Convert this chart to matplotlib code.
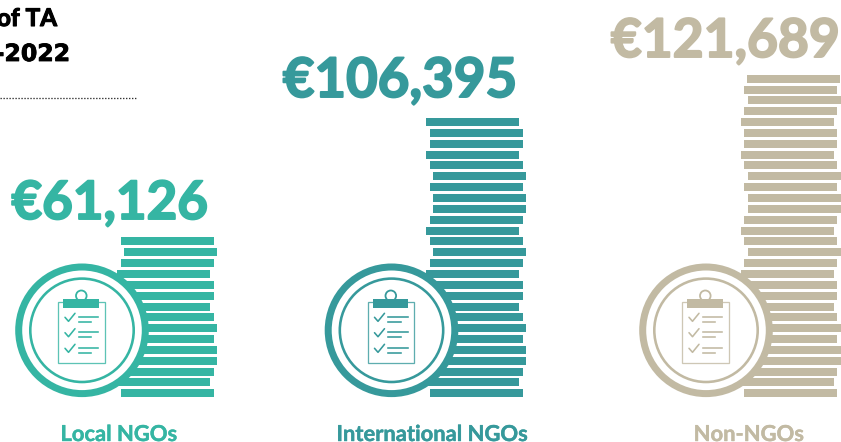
import matplotlib
matplotlib.use("Agg")
import numpy as np
import matplotlib.pyplot as plt
import matplotlib.patheffects as pe
from matplotlib.patches import Circle, Rectangle

# Values
categories = ["Local NGOs", "International NGOs", "Non-NGOs"]
costs = [61126, 106395, 121689]
title_lines = ["of TA", "-2022"]

# one coin in the stack stands for about this many euros
EUROS_PER_COIN = 4075

COLORS = ["#35B5A3", "#36999B", "#C2BAA3"]

# sideways jitter of each coin, top of the stack first
shift_local = [0, 3, 0, -4, 0, 0, -4, 0, 3, 0, 3, 3, 0, -4, 0]
shift_intl = [-4, 0, 0, -4, 0, 3, 0, 3, 3, 0, -4, 0, 3, 0,
              -4, 0, 0, -4, 0, 3, 0, 3, 3, 0, -4, 0]
shift_non = [3, 0, 4, 0, -3, 0, 0, -3, 0, 4, 0, 4, 4, 0, -3, 0, 4,
             0, -3, 0, 0, -3, 0, 4, 0, 4, 4, 0, -3, 0]
shifts = [shift_local, shift_intl, shift_non]

# layout, in pixels of the 841x442 canvas
STACK_LEFT = [121, 430, 744]
COIN_W = 93
COIN_H = 8
BOTTOM_COIN_TOP = 389
RING_X = [82, 391.5, 706]
RING_Y = 330.3
VALUE_X = [109.5, 400, 725.5]
VALUE_Y = [219, 97, 57]
VALUE_SIZE = [38.1, 39.3, 38.4]
LABEL_X = [119, 432.5, 749]
LABEL_Y = 441

px = 0.72  # points per pixel at dpi 100


def heavy(width, color):
    # the installed fonts stop short of the source's weight, so thicken the glyphs
    return [pe.withStroke(linewidth=width, foreground=color)]


def draw_icon(ax, cx, cy, color):
    """Ring badge with the clipboard inside."""
    ax.add_patch(Circle((cx, cy), 63.3, fc="white", ec=color, lw=7 * px, zorder=3))
    ax.add_patch(Circle((cx, cy), 51.7, fc="white", ec=color, lw=2.6 * px, zorder=4))

    # board
    ax.add_patch(Rectangle((cx - 23.5, cy - 28.5), 46.5, 61, fc="none", ec=color,
                           lw=1.3 * px, alpha=0.8, zorder=5))
    ax.add_patch(Circle((cx - 0.7, cy - 34.5), 5.3, fc="white", ec=color, lw=1.8 * px, zorder=5))
    ax.add_patch(Rectangle((cx - 18.5, cy - 31.5), 35.5, 9, fc=color, ec="none", zorder=6))

    # ticks and text lines
    for dy in [-13, 2.4, 18]:
        ax.plot([cx - 17, cx - 13.5, cx - 7], [cy + dy, cy + dy + 4, cy + dy - 4],
                color=color, lw=1.6 * px, zorder=5, solid_capstyle="round")
        ax.plot([cx - 3, cx + 16.5], [cy + dy - 0.6, cy + dy - 0.6], color=color, lw=1.6 * px, zorder=5)
        ax.plot([cx - 3, cx + 9.5], [cy + dy + 4.2, cy + dy + 4.2], color=color, lw=1.6 * px, zorder=5)


fig = plt.figure(figsize=(8.41, 4.42), dpi=100)
ax = fig.add_axes([0, 0, 1, 1])
ax.set_xlim(0, 841)
ax.set_ylim(442, 0)
ax.axis("off")

for i, cat in enumerate(categories):
    n_coins = round(costs[i] / EUROS_PER_COIN)
    # bottom coin is index 0; the artwork spaces them 10.85px apart
    rows = BOTTOM_COIN_TOP - np.floor(np.arange(n_coins) * 10.85 + 0.15)
    lefts = STACK_LEFT[i] + np.array(shifts[i][::-1])
    ax.barh(rows, COIN_W, height=COIN_H, left=lefts, align="edge", color=COLORS[i], zorder=2)

    draw_icon(ax, RING_X[i], RING_Y, COLORS[i])

    ax.text(VALUE_X[i], VALUE_Y[i], f"€{costs[i]:,}", color=COLORS[i], ha="center", va="baseline",
            family="Lato", fontweight="bold", fontsize=VALUE_SIZE[i],
            path_effects=heavy(1.4, COLORS[i]))
    ax.text(LABEL_X[i], LABEL_Y, cat, color=COLORS[i], ha="center", va="baseline",
            family="Lato", fontweight="bold", fontsize=15.8,
            path_effects=heavy(0.3, COLORS[i]))

# title is cut off by the left edge in the source
ax.text(57, 26, title_lines[0], ha="right", va="baseline", color="black",
        family="Lato", fontweight="bold", fontsize=17.5, path_effects=heavy(0.8, "black"))
ax.text(70, 61, title_lines[1], ha="right", va="baseline", color="black",
        family="DejaVu Sans", fontweight="bold", fontsize=17, path_effects=heavy(0.6, "black"))
ax.plot([0, 136], [97.5, 97.5], color="#222222", lw=1.3 * px, linestyle=(0, (1, 1.3)))

plt.savefig("out.png", dpi=100)
plt.close()
